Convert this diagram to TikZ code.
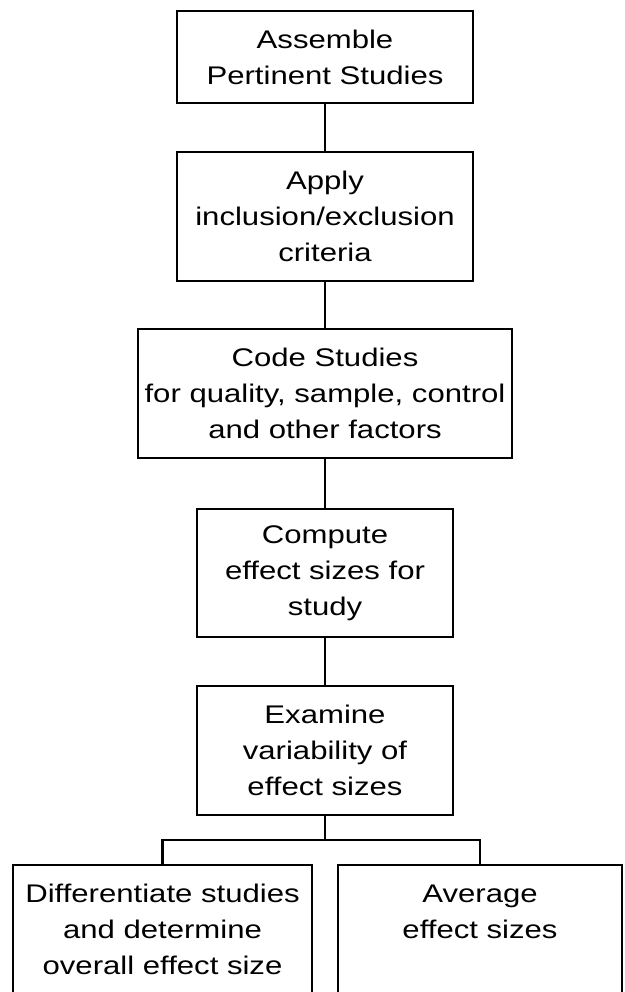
\documentclass[tikz,border=0pt]{standalone}
\usepackage{fontspec}
\setmainfont{Liberation Sans}[FakeStretch=1.22]
\tikzset{
  stage/.style={draw, line width=2.5pt, align=center, inner sep=0pt,
    font=\fontsize{25.5pt}{36pt}\selectfont},
  link/.style={line width=2.5pt},
}
\begin{document}
\begin{tikzpicture}[x=1pt,y=-1pt]
  \clip (0,0) rectangle (624,992);
  \node[stage, minimum width=296pt, minimum height=92pt] (assemble) at (325,57) {Assemble\\Pertinent Studies};
  \node[stage, minimum width=296pt, minimum height=129pt] (apply) at (325,216.5) {Apply\\inclusion/exclusion\\criteria};
  \node[stage, minimum width=374pt, minimum height=129pt] (code) at (325,393.5) {Code Studies\\for quality, sample, control\\and other factors};
  \node[stage, minimum width=256pt, minimum height=128pt] (compute) at (325,573) {Compute\\effect sizes for\\study};
  \node[stage, minimum width=256pt, minimum height=129pt] (examine) at (325,750.5) {Examine\\variability of\\effect sizes};
  \node[stage, minimum width=299pt, minimum height=129pt] (differ) at (162.5,929.5) {Differentiate studies\\and determine\\overall effect size};
  \node[stage, minimum width=284pt, minimum height=129pt] (average) at (480,929.5) {Average\\effect sizes\\\mbox{}};
  \draw[link] (assemble) -- (apply);
  \draw[link] (apply) -- (code);
  \draw[link] (code) -- (compute);
  \draw[link] (compute) -- (examine);
  \coordinate (fork) at (325,840);
  \draw[link] (examine) -- (fork);
  \draw[link] (differ.north) |- (fork) -| (average.north);
\end{tikzpicture}
\end{document}
